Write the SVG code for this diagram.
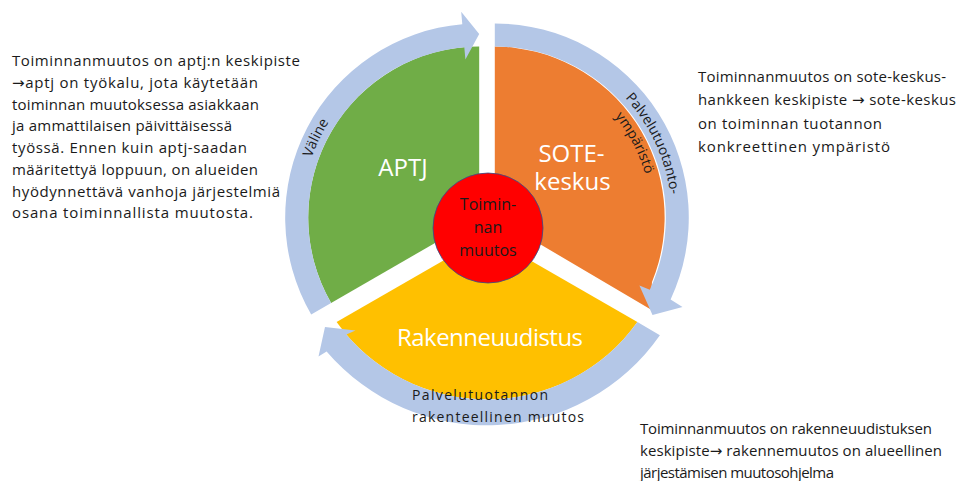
<svg xmlns="http://www.w3.org/2000/svg" width="974" height="481" viewBox="0 0 974 481">
<defs>
<style>
.t{font-family:'Open Sans','DejaVu Sans',sans-serif;fill:#1a1a1a}
.body{font-size:15px}
.lbl{font-size:24px;fill:#ffffff;text-anchor:middle}
.arc{font-size:14px}
.band{fill:#B4C7E7}
</style>
<path id="pVal" d="M301.6,229.9 A178,178 0 0 1 379.7,69.9"/>
<path id="pPal" d="M596.3,72.5 A177,177 0 0 1 671.1,232.9"/>
<path id="pYmp" d="M578.0,84.3 A156,156 0 0 1 650.7,222.9"/>
</defs>
<rect width="974" height="481" fill="#ffffff"/>

<g id="aptj">
<path d="M479.2,217.5 L331.1,303 A171,171 0 0 1 479.2,46.5 Z" fill="#70AD47"/>
</g>
<g id="sote">
<path d="M494.8,217.5 L494.8,46.5 A171,171 0 0 1 652,282 L650,309 Z" fill="#ED7D31"/>
</g>
<g id="rakenne">
<path d="M487,235.4 L637.4,322.1 A185,185 0 0 1 336.6,322.1 Z" fill="#FFC000"/>
</g>

<g id="connectors">
<path class="band" d="M331.1,303 A171,171 0 0 1 464.3,47.2 L465.4,59.6 L479.2,34 L461.2,11.8 L462.3,24.2 A194,194 0 0 0 311.2,314.5 Z"/>
<path class="band" d="M494.8,46.5 A171,171 0 0 1 649.8,289.8 L639.4,285.5 L652.5,315 L682.5,307 L670.6,299.5 A194,194 0 0 0 494.8,23.5 Z"/>
<path class="band" d="M637.4,322.1 L659.9,335.3 A211,211 0 0 1 326.6,351.4 L318.5,356.5 L325,327 L355.5,330.5 L346.3,334.5 A185,185 0 0 0 637.4,322.1 Z"/>
</g>

<g id="center">
<circle cx="488" cy="228" r="55" fill="#FF0000" stroke="#2F528F" stroke-width="0.8"/>
<text class="t" font-size="16" text-anchor="middle" x="488" y="210">Toimin-</text>
<text class="t" font-size="16" text-anchor="middle" x="488" y="233">nan</text>
<text class="t" font-size="16" text-anchor="middle" x="488" y="256">muutos</text>
</g>

<g id="labels">
<text class="t lbl" x="403" y="176">APTJ</text>
<text class="t lbl" x="571.5" y="162">SOTE-</text>
<text class="t lbl" x="572.5" y="190">keskus</text>
<text class="t lbl" x="490" y="346" font-size="23" textLength="186">Rakenneuudistus</text>
<text class="t arc"><textPath href="#pVal" startOffset="50%" text-anchor="middle">Väline</textPath></text>
<text class="t arc"><textPath href="#pPal" startOffset="50%" text-anchor="middle">Palvelutuotanto-</textPath></text>
<text class="t arc"><textPath href="#pYmp" startOffset="50%" text-anchor="middle">ympäristö</textPath></text>
<text class="t arc" x="412" y="400" textLength="136">Palvelutuotannon</text>
<text class="t arc" x="412" y="422" textLength="172">rakenteellinen muutos</text>
</g>

<g id="note-aptj" class="t body">
<text x="12" y="66" textLength="288">Toiminnanmuutos on aptj:n keskipiste</text>
<text x="12" y="87.7" textLength="246">→aptj on työkalu, jota käytetään</text>
<text x="12" y="109.5" textLength="247">toiminnan muutoksessa asiakkaan</text>
<text x="12" y="131.2" textLength="220">ja ammattilaisen päivittäisessä</text>
<text x="12" y="153" textLength="235">työssä. Ennen kuin aptj-saadan</text>
<text x="12" y="174.7" textLength="246">määritettyä loppuun, on alueiden</text>
<text x="12" y="196.5" textLength="268">hyödynnettävä vanhoja järjestelmiä</text>
<text x="12" y="218.2" textLength="241">osana toiminnallista muutosta.</text>
</g>

<g id="note-sote" class="t body">
<text x="698" y="82" textLength="248">Toiminnanmuutos on sote-keskus-</text>
<text x="698" y="105.3" textLength="258">hankkeen keskipiste → sote-keskus</text>
<text x="698" y="128.7" textLength="184">on toiminnan tuotannon</text>
<text x="698" y="152" textLength="192">konkreettinen ympäristö</text>
</g>

<g id="note-rakenne" class="t body">
<text x="640" y="434" textLength="292">Toiminnanmuutos on rakenneuudistuksen</text>
<text x="640" y="456" textLength="302">keskipiste→ rakennemuutos on alueellinen</text>
<text x="640" y="478" textLength="194">järjestämisen muutosohjelma</text>
</g>
</svg>
